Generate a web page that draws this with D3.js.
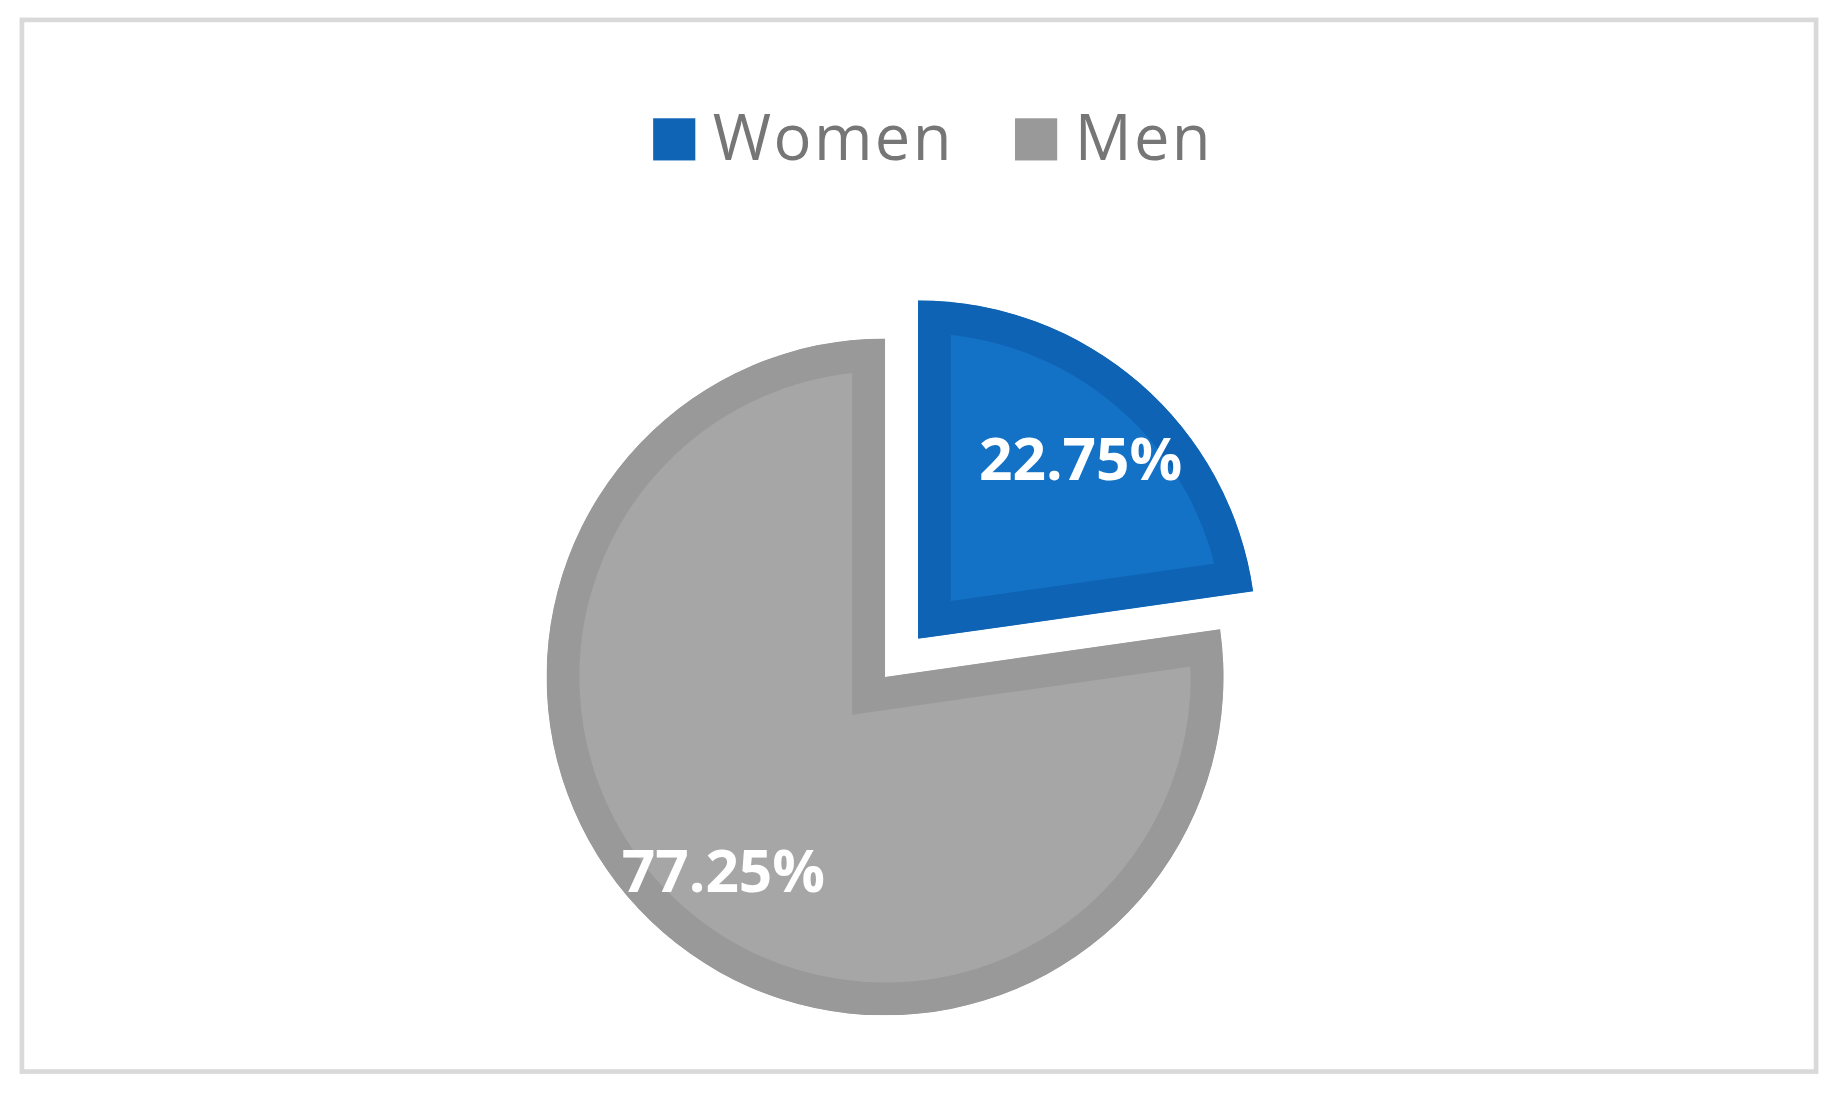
<!DOCTYPE html>
<html>
<head>
<meta charset="UTF-8">
<script src="https://d3js.org/d3.v7.min.js"></script>
<style>
  body { margin: 0; background: #fff; font-family: "Open Sans", sans-serif; }
</style>
</head>
<body>
<div id="chart"></div>
<script>
  const categories = ["Women", "Men"];
  const values = [22.75, 77.25];
  const labels = ["22.75%", "77.25%"];
  const fills = ["#1372c6", "#a6a6a6"];
  const borders = ["#0f63b5", "#999999"];

  const W = 1568, H = 935;
  const svg = d3.select("#chart").append("svg")
    .attr("width", 1838).attr("height", 1095)
    .attr("viewBox", `0 0 ${W} ${H}`);

  svg.append("rect").attr("x", 18).attr("y", 17).attr("width", 1532).attr("height", 898)
    .attr("fill", "#fff").attr("stroke", "#d9d9d9").attr("stroke-width", 4);

  const cx = 755, cy = 578, r = 289, explode = 43;
  const pie = d3.pie().sort(null).value(d => d);
  const arcs = pie(values);
  const arc = d3.arc().innerRadius(0).outerRadius(r);
  const defs = svg.append("defs");

  const g = svg.append("g").attr("transform", `translate(${cx},${cy})`);
  arcs.forEach((a, i) => {
    const mid = (a.startAngle + a.endAngle) / 2;
    const off = i === 0 ? explode : 0;
    const dx = Math.sin(mid) * off, dy = -Math.cos(mid) * off;
    defs.append("clipPath").attr("id", "clip" + i).append("path").attr("d", arc(a));
    const sg = g.append("g").attr("transform", `translate(${dx},${dy})`);
    sg.append("path").attr("d", arc(a)).attr("fill", fills[i])
      .attr("stroke", borders[i]).attr("stroke-width", 56)
      .attr("clip-path", `url(#clip${i})`);
  });

  const labelPos = [[922, 390], [617, 742]];
  labels.forEach((t, i) => {
    svg.append("text").attr("x", labelPos[i][0]).attr("y", labelPos[i][1])
      .attr("text-anchor", "middle").attr("dominant-baseline", "central")
      .attr("fill", "#fff").attr("font-weight", "bold").attr("font-size", 50)
      .text(t);
  });

  const legendX = [557, 866];
  categories.forEach((c, i) => {
    svg.append("rect").attr("x", legendX[i]).attr("y", 101).attr("width", 36).attr("height", 36)
      .attr("fill", i === 0 ? "#1064b5" : "#999999");
    svg.append("text").attr("x", legendX[i] + 51).attr("y", 137)
      .attr("fill", "#767676").attr("font-size", 54).attr("letter-spacing", 2).text(c);
  });
</script>
</body>
</html>
